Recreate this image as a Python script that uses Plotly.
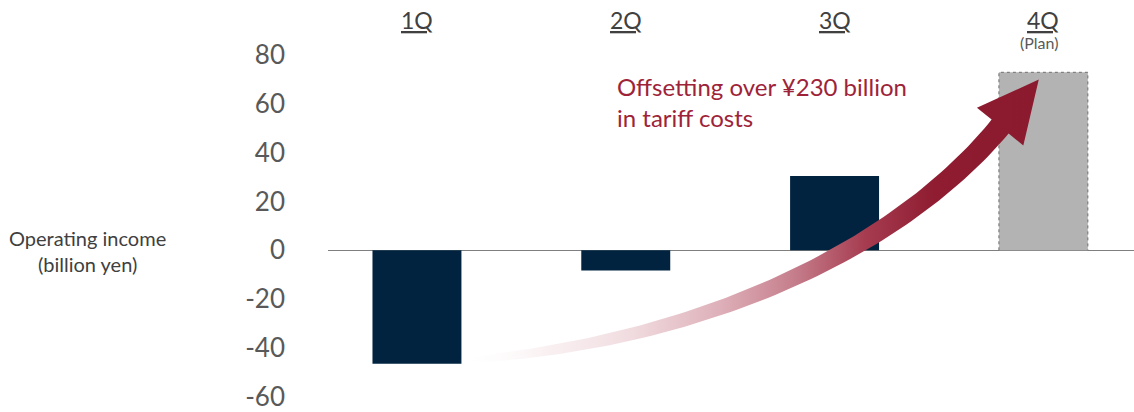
import numpy as np
import plotly.graph_objects as go

# ---------------- data ----------------
quarters = ["1Q", "2Q", "3Q", "4Q"]
quarter_notes = ["", "", "", "(Plan)"]
operating_income = [-46.5, -8.3, 30.5, 73.0]
is_plan = [False, False, False, True]
tick_values = [-60, -40, -20, 0, 20, 40, 60, 80]
tick_labels = ["-60", "-40", "-20", "0", "20", "40", "60", "80"]
y_title = "Operating income<br>(billion yen)"
callout = "Offsetting over ¥230 billion<br>in tariff costs"

# ---------------- style / layout ----------------
W, H = 1134, 412
ML, MR, MT, MB = 328, 0, 0, 0
X_RANGE = [-0.426, 3.434]
Y_RANGE = [-65.5, 102.65]
BAR_W = 0.426
NAVY = "#01233f"
PLAN_GRAY = "#b3b3b3"
RED = "#8b1a2e"
TEXT_RED = "#9e2339"
FONT = "Lato"

PW = W - ML - MR
PH = H - MT - MB


def to_px(xd, yd):
    px = ML + (xd - X_RANGE[0]) / (X_RANGE[1] - X_RANGE[0]) * PW
    py = MT + (Y_RANGE[1] - yd) / (Y_RANGE[1] - Y_RANGE[0]) * PH
    return px, py


def to_data(px, py):
    xd = X_RANGE[0] + (np.asarray(px) - ML) / PW * (X_RANGE[1] - X_RANGE[0])
    yd = Y_RANGE[1] - (np.asarray(py) - MT) / PH * (Y_RANGE[1] - Y_RANGE[0])
    return xd, yd


xs = list(range(len(quarters)))
act_x = [x for x, p in zip(xs, is_plan) if not p]
act_y = [v for v, p in zip(operating_income, is_plan) if not p]
plan_x = [x for x, p in zip(xs, is_plan) if p]
plan_y = [v for v, p in zip(operating_income, is_plan) if p]

fig = go.Figure()
fig.add_trace(go.Bar(x=act_x, y=act_y, width=BAR_W, marker=dict(color=NAVY, line=dict(width=0)),
                     hoverinfo="skip", showlegend=False))
fig.add_trace(go.Bar(x=plan_x, y=plan_y, width=BAR_W, marker=dict(color=PLAN_GRAY, line=dict(width=0)),
                     hoverinfo="skip", showlegend=False))
# dashed outline of plan bar
for x, v in zip(plan_x, plan_y):
    fig.add_trace(go.Scatter(
        x=[x - BAR_W / 2, x - BAR_W / 2, x + BAR_W / 2, x + BAR_W / 2],
        y=[0, v, v, 0], mode="lines",
        line=dict(color="#6f6f6f", width=1, dash="dot"),
        hoverinfo="skip", showlegend=False))

# ---------------- curved gradient arrow (decoration) ----------------
tail = np.array(to_px(xs[0] + 0.2, operating_income[0] + 1.2))
tip = np.array(to_px(xs[-1] - 0.022, operating_income[-1] - 3.0))
head_dir = np.array([100.0, -122.0])
head_dir /= np.linalg.norm(head_dir)
HEAD_LEN, HEAD_HALF = 61.0, 30.0
P0 = tail
P3 = tip - HEAD_LEN * head_dir
P2 = P3 - 158.0 * head_dir
P1 = tail + np.array([242.0, -17.0])

t = np.linspace(0, 1, 80)[:, None]
B = (1 - t) ** 3 * P0 + 3 * (1 - t) ** 2 * t * P1 + 3 * (1 - t) * t ** 2 * P2 + t ** 3 * P3
D = 3 * (1 - t) ** 2 * (P1 - P0) + 6 * (1 - t) * t * (P2 - P1) + 3 * t ** 2 * (P3 - P2)
D = D / np.linalg.norm(D, axis=1, keepdims=True)
N = np.column_stack([D[:, 1], -D[:, 0]])
half_w = (3 + 19 * np.sqrt(t[:, 0])) / 2
top = B + N * half_w[:, None]
bot = B - N * half_w[:, None]
n_end = np.array([head_dir[1], -head_dir[0]])
wing_l = P3 + n_end * HEAD_HALF
wing_r = P3 - n_end * HEAD_HALF
poly = np.vstack([top, wing_l, tip, wing_r, bot[::-1], top[:1]])
ax_, ay_ = to_data(poly[:, 0], poly[:, 1])

fig.add_trace(go.Scatter(
    x=ax_, y=ay_, mode="lines", line=dict(width=0, color=RED),
    fill="toself",
    fillgradient=dict(type="horizontal", colorscale=[
        [0.0, "rgba(255,255,255,0)"],
        [0.15, "rgba(247,234,236,0.7)"],
        [0.3, "#f0dbdf"],
        [0.45, "#deb0b9"],
        [0.58, "#c57d8b"],
        [0.7, "#a63c50"],
        [0.82, "#8f1c31"],
        [1.0, RED]]),
    hoverinfo="skip", showlegend=False))

# ---------------- annotations ----------------
annotations = []
for x, q, note in zip(xs, quarters, quarter_notes):
    annotations.append(dict(x=x, xref="x", y=1 - 20 / H, yref="paper", text=f"<u>{q}</u>",
                            showarrow=False, xanchor="center", yanchor="middle",
                            font=dict(family=FONT, size=23, color="#404040")))
    if note:
        annotations.append(dict(x=x - 0.02, xref="x", y=1 - 43 / H, yref="paper", text=note,
                                showarrow=False, xanchor="center", yanchor="middle",
                                font=dict(family=FONT, size=16, color="#595959")))
annotations.append(dict(x=(87 - ML) / PW, xref="paper", y=1 - 252 / H, yref="paper", text=y_title,
                        showarrow=False, xanchor="center", yanchor="middle", align="center",
                        font=dict(family=FONT, size=20, color="#404040")))
annotations.append(dict(x=(615 - ML) / PW, xref="paper", y=1 - 70 / H, yref="paper", text=callout,
                        showarrow=False, xanchor="left", yanchor="top", align="left",
                        font=dict(family=FONT, size=24, color=TEXT_RED)))

fig.update_layout(
    width=W, height=H, autosize=False,
    margin=dict(l=ML, r=MR, t=MT, b=MB, pad=0),
    paper_bgcolor="white", plot_bgcolor="white",
    barmode="overlay",
    showlegend=False,
    xaxis=dict(range=X_RANGE, visible=False, fixedrange=True),
    yaxis=dict(range=Y_RANGE, tickvals=tick_values, ticktext=tick_labels,
               showgrid=False, showline=False, ticks="",
               zeroline=True, zerolinecolor="#7f7f7f", zerolinewidth=1.3,
               ticklabelstandoff=42, ticklabeloverflow="allow",
               tickfont=dict(family=FONT, size=26, color="#595959"), fixedrange=True),
    annotations=annotations,
)

fig.write_html("out.html")
